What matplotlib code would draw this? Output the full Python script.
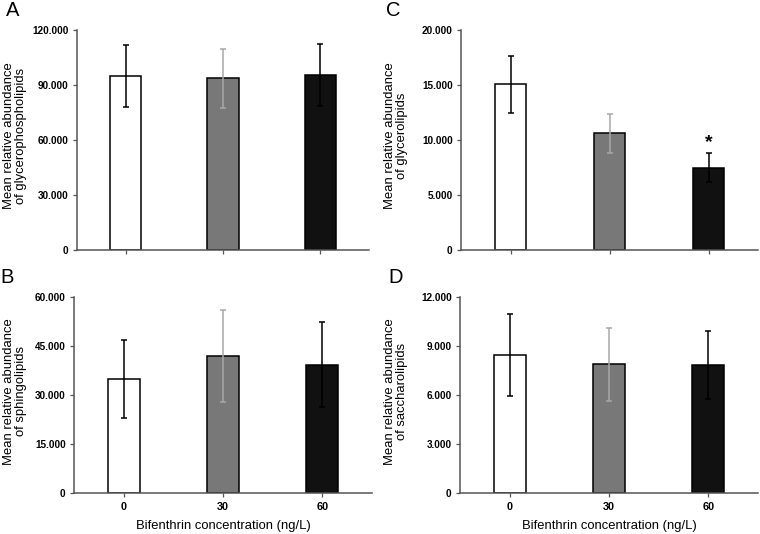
import matplotlib
matplotlib.use('Agg')
import matplotlib.pyplot as plt

plt.rcParams['font.family'] = ['Liberation Sans', 'DejaVu Sans']

# concentrations (ng/L)
groups = ['0', '30', '60']

# panel A - glycerophospholipids
gpl_mean = [95.1, 93.6, 95.6]
gpl_err = [16.9, 16.2, 16.9]
# panel B - sphingolipids
sph_mean = [35.0, 42.0, 39.3]
sph_err = [11.9, 14.1, 13.0]
# panel C - glycerolipids
gl_mean = [15.05, 10.6, 7.5]
gl_err = [2.6, 1.8, 1.3]
# panel D - saccharolipids
sac_mean = [8.45, 7.9, 7.86]
sac_err = [2.5, 2.23, 2.1]

bar_colors = ['white', '#787878', '#111111']
err_colors = ['black', '#a8a8a8', 'black']

W, H = 760, 534
fig = plt.figure(figsize=(W / 100, H / 100), dpi=100)


def panel(rect, mean, err, ymax, step, ticks_txt, ylab, label_x, show_x):
    ax = fig.add_axes(rect)
    x = range(len(groups))
    ax.bar(x, mean, width=0.32, color=bar_colors, edgecolor='black', linewidth=1.1, zorder=2)
    for i in x:
        ax.errorbar(i, mean[i], yerr=err[i], fmt='none', ecolor=err_colors[i],
                    elinewidth=1.1, capsize=2, capthick=1.1, zorder=3)
    ax.set_xlim(-0.5, 2.5)
    ax.set_ylim(0, ymax)
    ax.set_yticks([step * k for k in range(len(ticks_txt))])
    ax.set_yticklabels(ticks_txt, fontsize=7.2, fontweight='bold')
    ax.set_xticks(list(x))
    if show_x:
        ax.set_xticklabels(groups, fontsize=7.8, fontweight='bold')
        ax.set_xlabel('Bifenthrin concentration (ng/L)', fontsize=9.4, labelpad=6)
    else:
        ax.set_xticklabels([])
    ax.set_ylabel(ylab, fontsize=9.4, linespacing=1.05)
    # place the y label at a fixed pixel column, like the original figure
    ax.yaxis.label.set_va('center')
    ax.yaxis.set_label_coords((label_x - rect[0] * W) / (rect[2] * W), 0.52)
    for s in ['top', 'right']:
        ax.spines[s].set_visible(False)
    for s in ['left', 'bottom']:
        ax.spines[s].set_color('#555555')
        ax.spines[s].set_linewidth(1.1)
    ax.tick_params(axis='both', direction='out', length=3, width=0.9, color='#555555', pad=3)
    return ax


axA = panel([0.1013, 0.5318, 0.3842, 0.412], gpl_mean, gpl_err, 120, 30,
            ['0', '30.000', '60.000', '90.000', '120.000'],
            'Mean relative abundance\nof glycerophospholipids', 15, False)
axC = panel([0.6066, 0.5318, 0.3908, 0.412], gl_mean, gl_err, 20, 5,
            ['0', '5.000', '10.000', '15.000', '20.000'],
            'Mean relative abundance\nof glycerolipids', 396, False)
axB = panel([0.0974, 0.0762, 0.392, 0.367], sph_mean, sph_err, 60, 15,
            ['0', '15.000', '30.000', '45.000', '60.000'],
            'Mean relative abundance\nof sphingolipids', 15, True)
axD = panel([0.6053, 0.0762, 0.392, 0.367], sac_mean, sac_err, 12, 3,
            ['0', '3.000', '6.000', '9.000', '12.000'],
            'Mean relative abundance\nof saccharolipids', 396, True)

# significance marker
axC.text(2, gl_mean[2] + gl_err[2] + 0.2, '*', ha='center', va='bottom',
         fontsize=14, fontweight='bold')

# panel letters
for letter, (px, py) in {'A': (6, 1), 'C': (386, 1), 'B': (0, 268), 'D': (388, 268)}.items():
    fig.text(px / W, 1 - py / H, letter, fontsize=14.5, ha='left', va='top')

fig.savefig('out.png', dpi=100)
